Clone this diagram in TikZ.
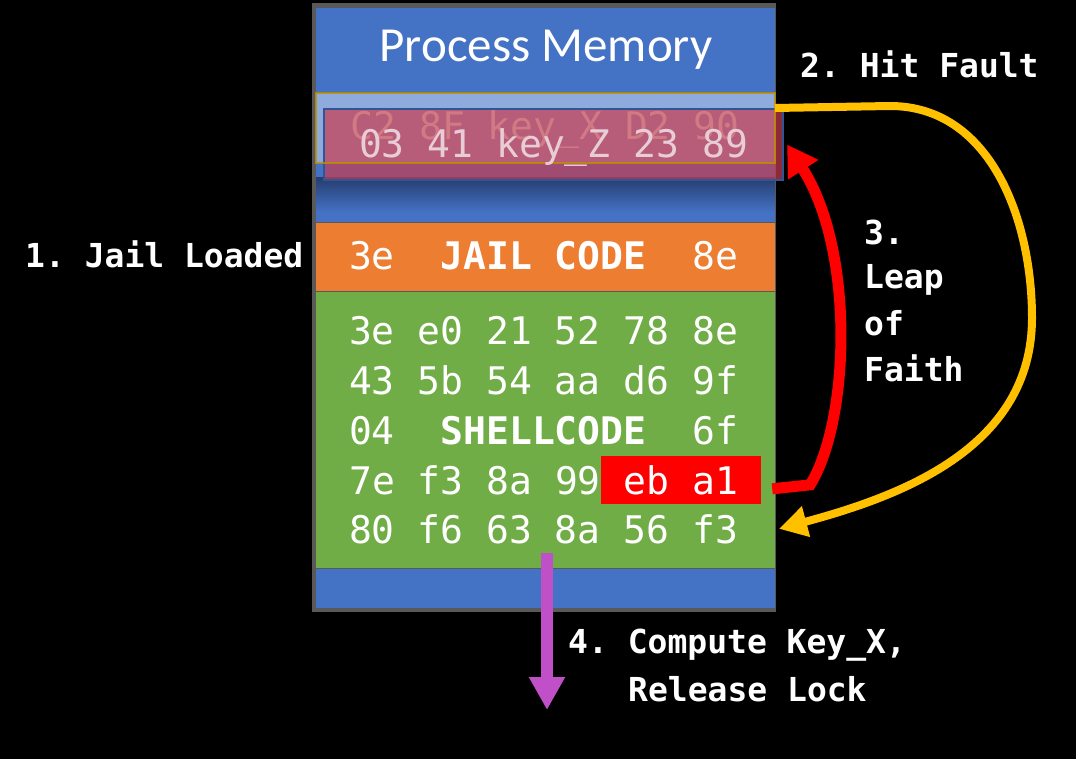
\documentclass[tikz,border=0pt]{standalone}
\usepackage{fontspec}
\setmainfont{DejaVu Sans}
\setsansfont{Carlito}
\setmonofont{DejaVu Sans Mono}
\usetikzlibrary{arrows.meta,positioning}
\definecolor{memblue}{RGB}{68,114,196}
\definecolor{keyblue}{RGB}{143,170,220}
\definecolor{shadeblue}{RGB}{38,62,112}
\definecolor{jailorange}{RGB}{237,125,49}
\definecolor{shellgreen}{RGB}{112,173,71}
\definecolor{jmpred}{RGB}{255,0,0}
\definecolor{faithgold}{RGB}{255,192,0}
\definecolor{rimgold}{RGB}{191,144,0}
\definecolor{keypink}{RGB}{200,60,80}
\definecolor{pinkrim}{RGB}{47,85,151}
\definecolor{exitpurple}{RGB}{192,80,200}
\definecolor{framegrey}{RGB}{89,89,89}
\definecolor{ghost}{RGB}{210,122,132}
\definecolor{keytext}{RGB}{232,205,215}
\tikzset{
	membar/.style={minimum width=459pt,inner sep=0pt,outer sep=0pt},
	hexrow/.style={font=\fontsize{38}{40}\selectfont\ttfamily,text=white,inner sep=0pt,anchor=base},
	stepnote/.style={font=\fontsize{33}{36}\selectfont\ttfamily\bfseries,text=white,inner sep=0pt,anchor=base west}
}
\begin{document}
\begin{tikzpicture}[x=1pt,y=1pt]
	\fill[black] (0,0) rectangle (1076,-759);
	\useasboundingbox (0,0) rectangle (1076,-759);
	% memory column
	\fill[framegrey] (312,-3) rectangle (776,-612);
	\node[membar,fill=memblue,minimum height=84pt] (top) at (545.5,-50) {};
	\node[membar,fill=keyblue,minimum height=70pt] (keyarea) at (545.5,-128) {};
	\node[membar,fill=memblue,minimum height=59pt] (gap) at (545.5,-192.5) {};
	\node[membar,fill=jailorange,minimum height=68pt] (jail) at (545.5,-257) {};
	\node[membar,fill=shellgreen,minimum height=276pt] (shell) at (545.5,-430) {};
	\node[membar,fill=memblue,minimum height=39pt] (bottom) at (545.5,-588.5) {};
	\shade[top color=shadeblue,bottom color=memblue] (316,-178) rectangle (775,-212);
	\node[font=\fontsize{49}{52}\selectfont\sffamily,text=white,inner sep=0pt,anchor=base] (title) at (546,-62) {Process Memory};
	% key overwrite
	\node[membar,fill=keypink,fill opacity=0.7,draw=pinkrim,line width=1.5pt,minimum height=71pt] (keybox) at (553.5,-144.5) {};
	\draw[rimgold,line width=1.5pt,opacity=0.8] (keyarea.north west) rectangle (keyarea.south east);
	\node[hexrow,text=ghost] (oldkey) at (545,-140) {C2 8F key\_X D2 90};
	\node[hexrow,text=keytext] (newkey) at (553.5,-158) {03 41 key\_Z 23 89};
	% jail and shellcode
	\node[hexrow] (jailtext) at (543.5,-270) {3e~~\textbf{JAIL CODE}~~8e};
	\node[hexrow] (row1) at (543.5,-344) {3e e0 21 52 78 8e};
	\node[hexrow] (row2) at (543.5,-394) {43 5b 54 aa d6 9f};
	\node[hexrow] (row3) at (543.5,-444) {04~~\textbf{SHELLCODE}~~6f};
	\node[hexrow,anchor=base west] (row4) at (349,-494) {7e f3 8a 99};
	\node[hexrow,fill=jmpred,minimum width=160pt,minimum height=48pt] (jmp) at (681,-494) {eb a1};
	\node[hexrow] (row5) at (543.5,-543) {80 f6 63 8a 56 f3};
	% steps
	\node[stepnote] (step1) at (25,-268) {1. Jail Loaded};
	\node[stepnote] (step2) at (800,-78) {2. Hit Fault};
	\node[stepnote] (step3) at (864,-245) {3.};
	\node[stepnote] (leap) at ([yshift=-44pt]step3.base west) {Leap};
	\node[stepnote] (of) at ([yshift=-46pt]leap.base west) {of};
	\node[stepnote] (faith) at ([yshift=-46pt]of.base west) {Faith};
	\node[stepnote] (step4) at (568,-653) {4. Compute Key\_X,};
	\node[stepnote] (release) at ([xshift=60pt,yshift=-48pt]step4.base west) {Release Lock};
	% arrows
	\draw[faithgold,line width=8pt,-{Triangle[width=30pt,length=28pt]}] ([yshift=20pt]keyarea.east) -- (890,-106)
		to[out=0,in=90] (1032,-318) to[out=-90,in=15] ([xshift=4pt]shell.east |- row5.center);
	\draw[jmpred,line width=11pt,-{Triangle[width=34pt,length=30pt]}] ([xshift=11pt,yshift=-9pt]jmp.east) -- ++(38,4)
		.. controls (850,-420) and (855,-250) .. ([xshift=4pt]keybox.east);
	\coordinate (exit) at (547,-710);
	\draw[exitpurple,line width=12pt,-{Triangle[width=34pt,length=33pt]}] (row5.south -| exit) ++(0,-9) -- (exit);
\end{tikzpicture}
\end{document}
